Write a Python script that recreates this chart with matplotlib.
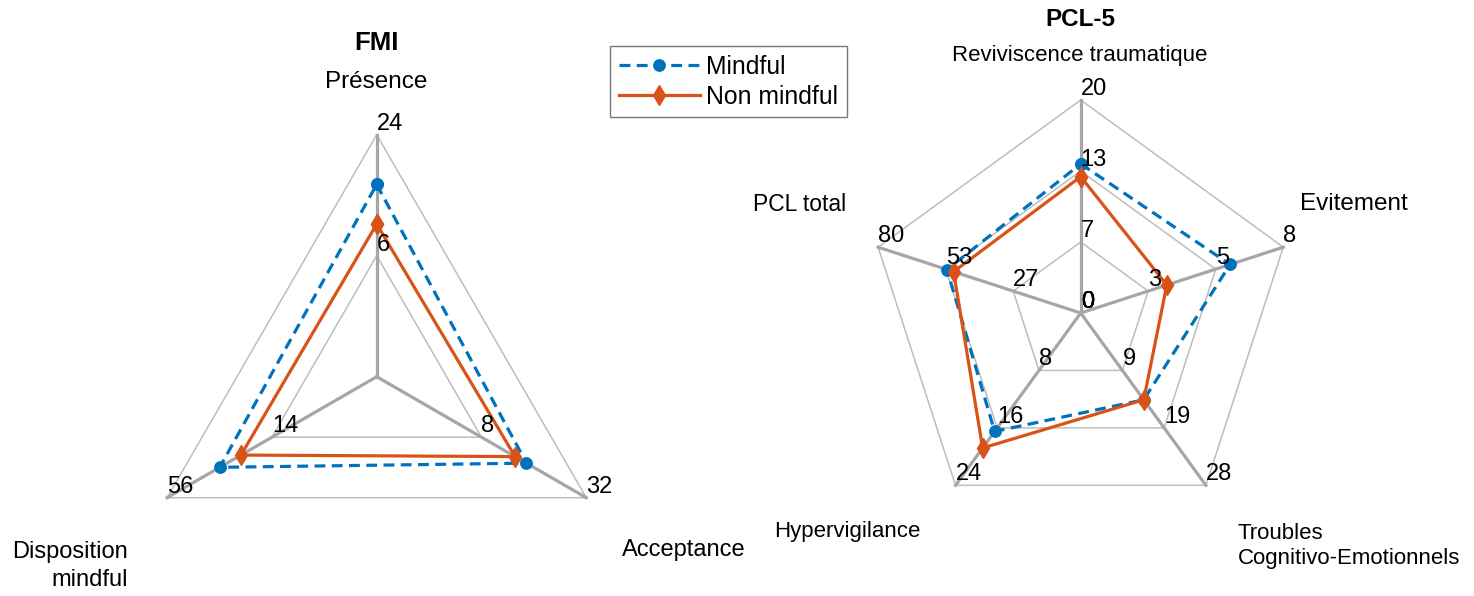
import numpy as np
import matplotlib.pyplot as plt
from matplotlib.lines import Line2D

plt.rcParams['font.family'] = ['Liberation Sans', 'DejaVu Sans']

W, H = 1474, 596

# FMI radar
fmi_labels = ["Présence", "Acceptance", "Disposition\nmindful"]
fmi_min = [6, 8, 14]
fmi_max = [24, 32, 56]
fmi_mindful = [16.6, 18.3, 34.9]
fmi_non = [10.7, 15.7, 26.4]

# PCL-5 radar
pcl_labels = ["Reviviscence traumatique", "Evitement", "Troubles\nCognitivo-Emotionnels",
              "Hypervigilance", "PCL total"]
pcl_min = [0, 0, 0, 0, 0]
pcl_max = [20, 8, 28, 24, 80]
pcl_mindful = [14.0, 5.9, 14.1, 16.5, 52.8]
pcl_non = [12.8, 3.4, 14.1, 18.8, 50.2]

blue = "#0072BD"
orange = "#D95319"
spoke_col = "#A6A6A6"
ring_col = "#BDBDBD"
fs = 16.5
dash = (3.4, 2.0)


def make_ax(cx, cy, R, x0, x1):
    ax = fig.add_axes([x0 / W, 0, (x1 - x0) / W, 1])
    ax.set_xlim((x0 - cx) / R, (x1 - cx) / R)
    ax.set_ylim((cy - H) / R, cy / R)
    ax.axis("off")
    return ax


def radar(ax, vmin, vmax, series, rings, offset):
    n = len(vmin)
    ang = np.deg2rad(90 - 360 * np.arange(n) / n)
    ca, sa = np.cos(ang), np.sin(ang)
    # rings
    for r in rings:
        if r == 0:
            continue
        xs = np.append(r * ca, r * ca[0])
        ys = np.append(r * sa, r * sa[0])
        ax.plot(xs, ys, color=ring_col, lw=1.1, zorder=1)
    # spokes
    for k in range(n):
        ax.plot([0, ca[k]], [0, sa[k]], color=spoke_col, lw=2.3, zorder=2)
    # ring labels
    for k in range(n):
        for r in rings:
            if offset > 0:
                val = vmin[k] + (vmax[k] - vmin[k]) * (r - offset) / (1 - offset)
            else:
                val = vmin[k] + (vmax[k] - vmin[k]) * r
            ax.text(r * ca[k], r * sa[k], f"{int(round(val))}", fontsize=fs + 0.5,
                    ha="left", va="bottom", zorder=5)
    # data
    for vals, col, ls, mk, ms in series:
        v = np.array(vals, dtype=float)
        frac = (v - np.array(vmin)) / (np.array(vmax) - np.array(vmin))
        r = offset + (1 - offset) * frac
        xs = np.append(r * ca, r[0] * ca[0])
        ys = np.append(r * sa, r[0] * sa[0])
        ax.plot(xs, ys, color=col, ls=ls, lw=2.3, marker=mk, markersize=ms,
                zorder=4, dashes=dash if ls == "--" else (None, None))


fig = plt.figure(figsize=(W / 100, H / 100), dpi=100)

axl = make_ax(376.7, 376.7, 242, 0, 740)
radar(axl, fmi_min, fmi_max,
      [(fmi_mindful, blue, "--", "o", 8.2), (fmi_non, orange, "-", "d", 10)],
      rings=[0.5, 1.0], offset=0.5)

axr = make_ax(1080.7, 313, 213, 740, W)
radar(axr, pcl_min, pcl_max,
      [(pcl_mindful, blue, "--", "o", 8.2), (pcl_non, orange, "-", "d", 10)],
      rings=[0, 1 / 3, 2 / 3, 1.0], offset=0)


def ftext(px, py, s, size=fs, **kw):
    fig.text(px / W, 1 - py / H, s, fontsize=size, linespacing=1.3, **kw)


# titles and axis names
ftext(376, 43, "FMI", size=18.5, ha="center", va="center", fontweight="bold")
ftext(376, 82, fmi_labels[0], size=17.5, ha="center", va="center")
ftext(622, 550, fmi_labels[1], size=17, ha="left", va="center")
ftext(128, 566, fmi_labels[2], size=17, ha="right", va="center")

ftext(1080, 19, "PCL-5", size=17.5, ha="center", va="center", fontweight="bold")
ftext(1080, 56, pcl_labels[0], size=16, ha="center", va="center")
ftext(1300, 204, pcl_labels[1], size=17.5, ha="left", va="center")
ftext(1238, 546, pcl_labels[2], size=16, ha="left", va="center")
ftext(921, 532, pcl_labels[3], size=16, ha="right", va="center")
ftext(846, 204, pcl_labels[4], ha="right", va="center")

handles = [
    Line2D([], [], color=blue, ls="--", lw=2.3, marker="o", markersize=8.2, dashes=dash),
    Line2D([], [], color=orange, ls="-", lw=2.3, marker="d", markersize=10),
]
leg = fig.legend(handles, ["Mindful", "Non mindful"], loc="upper left",
                 bbox_to_anchor=(610 / W, 1 - 46 / H), fontsize=17.8, frameon=True,
                 fancybox=False, edgecolor="#555555", borderaxespad=0,
                 handlelength=3.3, handletextpad=0.25, borderpad=0.35,
                 labelspacing=0.25)
leg.get_frame().set_linewidth(1.0)

fig.savefig("out.png", dpi=100)
